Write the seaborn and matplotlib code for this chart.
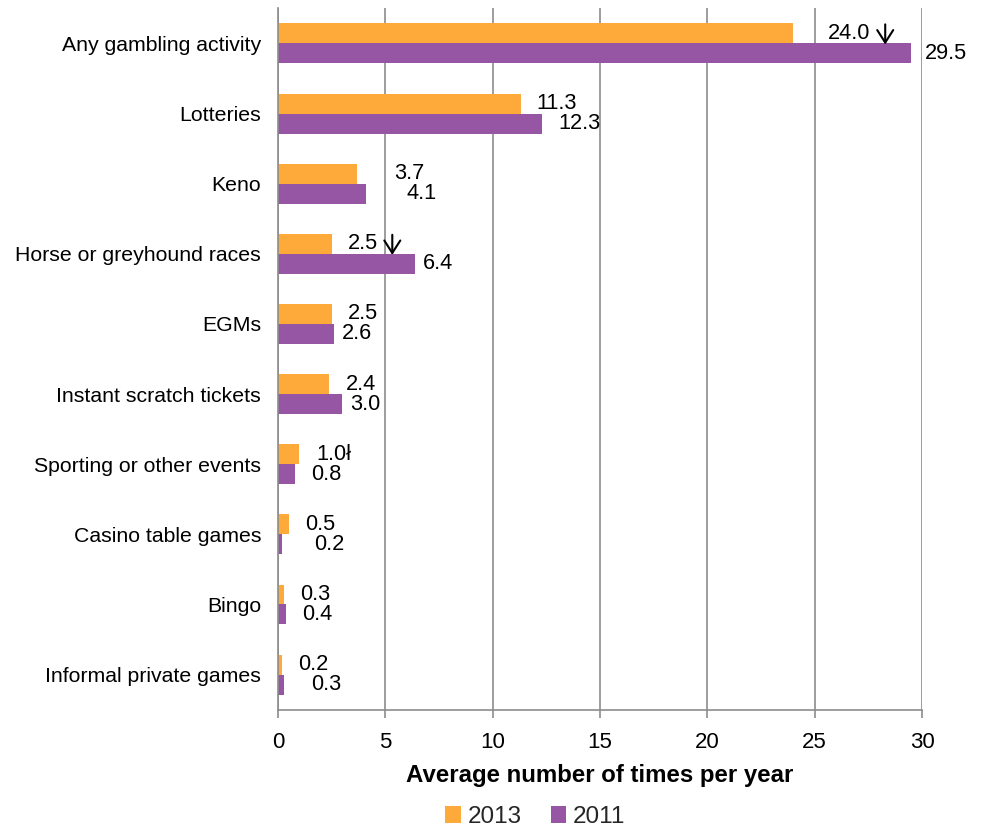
import matplotlib
matplotlib.use("Agg")
import matplotlib.pyplot as plt
from matplotlib.text import OffsetFrom
import seaborn as sns
import pandas as pd

# Average number of gambling occasions per year, by activity
categories = [
    "Any gambling activity",
    "Lotteries",
    "Keno",
    "Horse or greyhound races",
    "EGMs",
    "Instant scratch tickets",
    "Sporting or other events",
    "Casino table games",
    "Bingo",
    "Informal private games",
]
values_2013 = [24.0, 11.3, 3.7, 2.5, 2.5, 2.4, 1.0, 0.5, 0.3, 0.2]
values_2011 = [29.5, 12.3, 4.1, 6.4, 2.6, 3.0, 0.8, 0.2, 0.4, 0.3]
# significance markers after the 2013 labels: "down" = significant decrease
markers_2013 = ["down", "", "", "down", "", "", "\u0142", "", "", ""]
years = ["2013", "2011"]

# label offsets from bar ends (pixels)
offsets_2013 = [35, 16, 37, 16, 16, 16, 17, 16, 16, 16]
offsets_2011 = [14, 16, 41, 8, 8, 8, 16, 32, 16, 27]

colors = {"2013": "#FDAA3A", "2011": "#9656A3"}
grid_color = "#8C8C8C"

df = pd.DataFrame({
    "Activity": categories * 2,
    "Value": values_2013 + values_2011,
    "Year": ["2013"] * len(categories) + ["2011"] * len(categories),
})

sns.set_theme(style="white")
plt.rcParams["font.family"] = ["Liberation Sans", "DejaVu Sans"]

fig = plt.figure(figsize=(9.82, 8.32), dpi=100)
ax = fig.add_axes([0.283, 0.147, 0.656, 0.843])

sns.barplot(
    data=df, y="Activity", x="Value", hue="Year", hue_order=years,
    order=categories, palette=colors, orient="h", width=0.57,
    linewidth=0, saturation=1, ax=ax, legend=True,
)

ax.set_xlim(0, 30)
ax.set_xticks(range(0, 31, 5))
ax.xaxis.grid(True, color=grid_color, linewidth=1.2)
ax.yaxis.grid(False)
ax.set_axisbelow(True)

for side in ["top", "right"]:
    ax.spines[side].set_visible(False)
for side in ["left", "bottom"]:
    ax.spines[side].set_color(grid_color)
    ax.spines[side].set_linewidth(1.2)

ax.tick_params(axis="x", bottom=True, direction="out", length=6, width=1.2,
               color=grid_color, pad=10, labelsize=16, labelcolor="black")
ax.tick_params(axis="y", left=False, length=0, pad=12, labelsize=15.3,
               labelcolor="black")

ax.set_ylabel("")
ax.set_xlabel("Average number of times per year", fontsize=17.3,
              fontweight="bold", labelpad=8, color="black")

# data labels
label_sets = [
    (values_2013, offsets_2013, markers_2013),
    (values_2011, offsets_2011, [""] * len(categories)),
]
for container, (vals, offs, marks) in zip(ax.containers, label_sets):
    for patch, v, off, mk in zip(container.patches, vals, offs, marks):
        yc = patch.get_y() + patch.get_height() / 2
        text = f"{v:.1f}" + (mk if mk not in ("", "down") else "")
        txt = ax.annotate(text, xy=(v, yc), xytext=(off * 0.72, 0),
                          textcoords="offset points", ha="left", va="center",
                          fontsize=15.7, color="black", annotation_clip=False)
        if mk == "down":
            ref = OffsetFrom(txt, (1.0, 0.5))
            ax.annotate("", xy=(10.5, -8), xycoords=ref,
                        xytext=(10.5, 6.5), textcoords=ref,
                        arrowprops=dict(arrowstyle="->,head_length=0.75,head_width=0.48",
                                        color="black", lw=1.5,
                                        shrinkA=0, shrinkB=0))

# legend below the axis title
handles, labels = ax.get_legend_handles_labels()
ax.get_legend().remove()
fig.legend(handles, labels, loc="center", bbox_to_anchor=(0.545, 0.018),
           ncol=2, frameon=False, fontsize=17.5, handlelength=0.65,
           handleheight=0.65, handletextpad=0.25, columnspacing=1.2)

fig.savefig("out.png", dpi=100)
